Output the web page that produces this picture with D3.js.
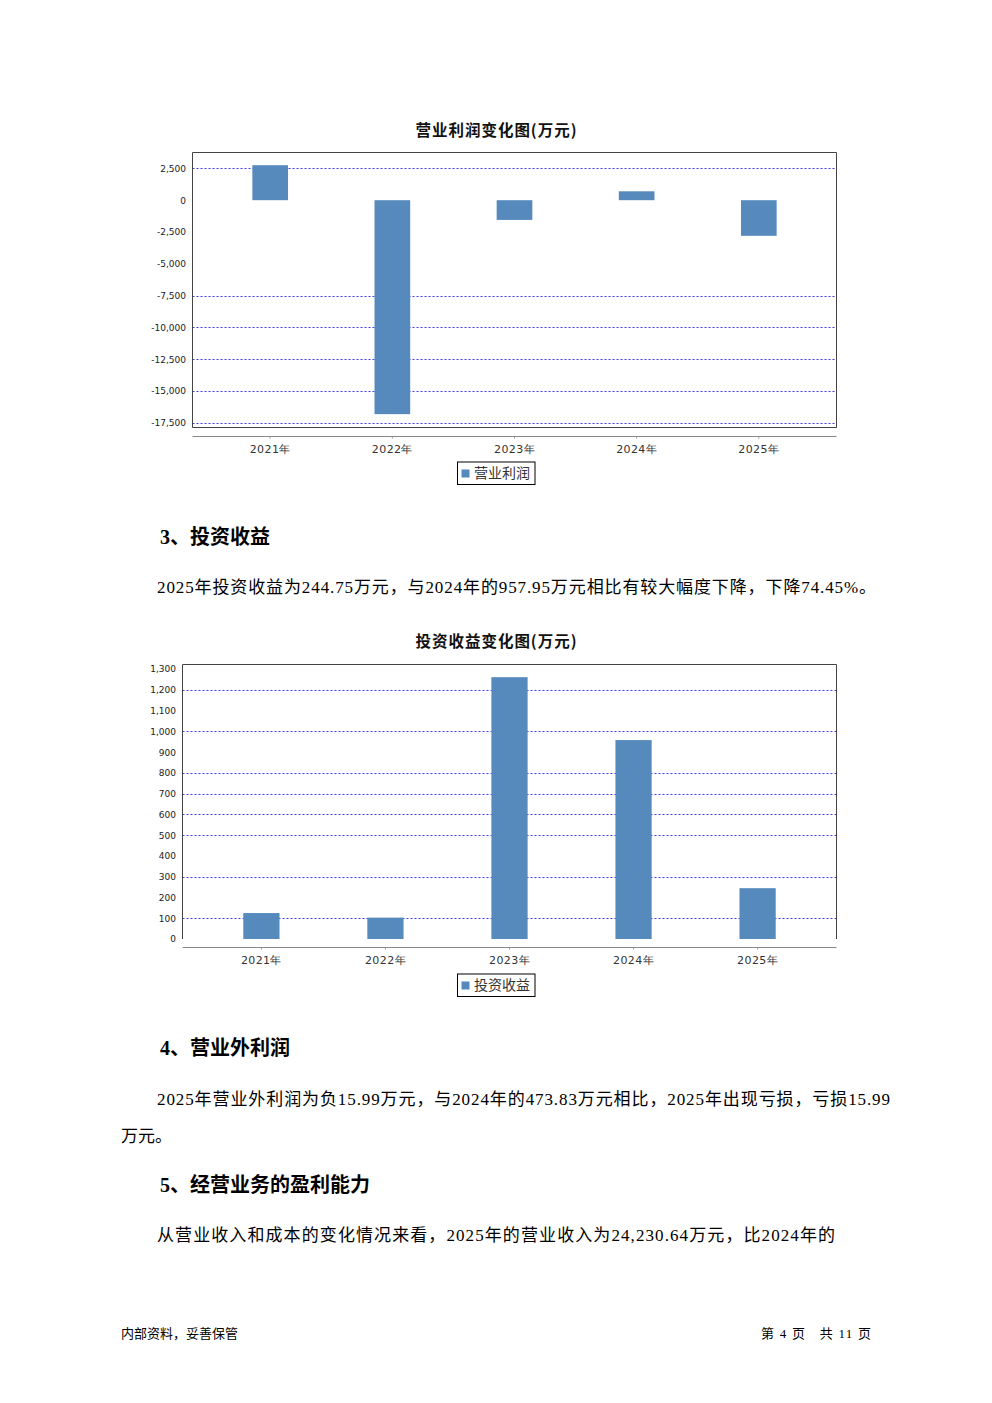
<!DOCTYPE html>
<html>
<head>
<meta charset="utf-8">
<script src="https://cdnjs.cloudflare.com/ajax/libs/d3/7.8.5/d3.min.js"></script>
<style>
  html, body { margin: 0; padding: 0; background: #fff; }
  svg { display: block; }
</style>
</head>
<body>
<script>
// ---------- data ----------
const years = ["2021年", "2022年", "2023年", "2024年", "2025年"];

const opProfitName = "营业利润";
const opProfit = [2750, -16820, -1550, 700, -2800];
const opTicks = [2500, 0, -2500, -5000, -7500, -10000, -12500, -15000, -17500];
const opTickLabels = ["2,500", "0", "-2,500", "-5,000", "-7,500", "-10,000", "-12,500", "-15,000", "-17,500"];
const opGrid = [2500, -7500, -10000, -12500, -15000, -17500];
const opDomain = [-17870, 3750];

const invName = "投资收益";
const invIncome = [125, 103, 1261, 957.95, 244.75];
const invTicks = [0, 100, 200, 300, 400, 500, 600, 700, 800, 900, 1000, 1100, 1200, 1300];
const invTickLabels = ["0", "100", "200", "300", "400", "500", "600", "700", "800", "900", "1,000", "1,100", "1,200", "1,300"];
const invGrid = [1200, 1000, 800, 700, 600, 500, 300, 100];
const invDomain = [0, 1322];

// ---------- page ----------
const W = 992, H = 1403;
const svg = d3.select("body").append("svg").attr("width", W).attr("height", H);
svg.append("rect").attr("width", W).attr("height", H).attr("fill", "#fff");

const CJK = '"Noto Sans CJK SC", sans-serif';
const SERIF = '"Liberation Serif", "Noto Sans CJK SC", serif';
const BAR = "#568abd";

function drawChart(o) {
  const g = svg.append("g");
  // title
  g.append("text").attr("x", 496).attr("y", o.titleY)
    .attr("text-anchor", "middle").attr("font-family", CJK).attr("font-weight", "bold")
    .attr("font-size", 15.5).attr("textLength", 161).attr("lengthAdjust", "spacing")
    .attr("fill", "#111").text(o.title);

  const x = d3.scaleBand().domain(o.cats).range([o.left, o.right])
    .paddingInner(0.708).paddingOuter(0.49);
  const y = d3.scaleLinear().domain(o.domain).range([o.bottom, o.top]);

  // grid
  g.append("g").selectAll("line").data(o.grid).join("line")
    .attr("x1", o.left).attr("x2", o.right)
    .attr("y1", d => Math.round(y(d)) + 0.5).attr("y2", d => Math.round(y(d)) + 0.5)
    .attr("stroke", "#3a3aff").attr("stroke-width", 1).attr("stroke-dasharray", "2,2");

  // bars
  g.append("g").selectAll("rect").data(o.values).join("rect")
    .attr("x", (d, i) => x(o.cats[i]))
    .attr("width", x.bandwidth())
    .attr("y", d => Math.min(y(d), y(0)))
    .attr("height", d => Math.abs(y(d) - y(0)))
    .attr("fill", BAR);

  // frame
  const fr = g.append("g").attr("fill", "none").attr("stroke", "#444").attr("stroke-width", 1);
  fr.append("line").attr("x1", o.left).attr("x2", o.right).attr("y1", o.top).attr("y2", o.top);
  fr.append("line").attr("x1", o.left).attr("x2", o.left).attr("y1", o.top).attr("y2", o.bottom);
  fr.append("line").attr("x1", o.right).attr("x2", o.right).attr("y1", o.top).attr("y2", o.bottom);
  if (o.bottomEdge) fr.append("line").attr("x1", o.left).attr("x2", o.right).attr("y1", o.bottom).attr("y2", o.bottom);

  // y axis
  const ya = g.append("g").attr("transform", `translate(${o.left},0)`)
    .call(d3.axisLeft(y).tickValues(o.ticks).tickSize(0).tickPadding(6.5)
      .tickFormat((d, i) => o.tickLabels[i]));
  ya.select(".domain").remove();
  ya.selectAll("text").attr("font-family", '"DejaVu Sans", sans-serif').attr("font-size", 9).attr("fill", "#222");

  // x axis
  const xa = g.append("g").attr("transform", `translate(0,${o.axisY})`)
    .call(d3.axisBottom(x).tickSize(2).tickSizeOuter(0).tickPadding(6.5));
  xa.select(".domain").attr("stroke", "#888").attr("d", `M${o.left},0H${o.right}`);
  xa.selectAll(".tick line").attr("stroke", "#999");
  xa.selectAll("text").attr("font-family", '"DejaVu Sans", sans-serif').attr("font-size", 11)
    .attr("letter-spacing", 0.4).attr("fill", "#333");

  // legend
  const lg = g.append("g");
  lg.append("rect").attr("x", 457.5).attr("y", o.legendY + 0.5).attr("width", 77.5).attr("height", 22.5)
    .attr("fill", "#fff").attr("stroke", "#000").attr("stroke-width", 1);
  lg.append("rect").attr("x", 461.5).attr("y", o.legendY + 8).attr("width", 8).attr("height", 8).attr("fill", BAR);
  lg.append("text").attr("x", 474).attr("y", o.legendY + 16.5).attr("font-family", CJK)
    .attr("font-size", 14).attr("fill", "#333").text(o.name);
}

drawChart({
  title: "营业利润变化图(万元)", titleY: 136, name: opProfitName,
  cats: years, values: opProfit, ticks: opTicks, tickLabels: opTickLabels, grid: opGrid, domain: opDomain,
  left: 192.5, right: 836.5, top: 152.5, bottom: 427.5, bottomEdge: true, axisY: 436.5, legendY: 461.5
});

drawChart({
  title: "投资收益变化图(万元)", titleY: 647, name: invName,
  cats: years, values: invIncome, ticks: invTicks, tickLabels: invTickLabels, grid: invGrid, domain: invDomain,
  left: 182.5, right: 836.5, top: 664.5, bottom: 939, bottomEdge: false, axisY: 947.5, legendY: 973.5
});

// ---------- body text ----------
function heading(txt, y) {
  svg.append("text").attr("x", 160).attr("y", y).attr("font-family", SERIF)
    .attr("font-weight", "bold").attr("font-size", 20).attr("fill", "#000").text(txt);
}
function para(txt, x, y, len) {
  const t = svg.append("text").attr("x", x).attr("y", y).attr("font-family", SERIF)
    .attr("font-size", 17).attr("fill", "#000").text(txt);
  if (len) t.attr("textLength", len).attr("lengthAdjust", "spacing");
}

heading("3、投资收益", 543.5);
para("2025年投资收益为244.75万元，与2024年的957.95万元相比有较大幅度下降，下降74.45%。", 157, 592.5, 719);

heading("4、营业外利润", 1055);
para("2025年营业外利润为负15.99万元，与2024年的473.83万元相比，2025年出现亏损，亏损15.99", 157, 1104.5, 733);
para("万元。", 121, 1141.5, null);

heading("5、经营业务的盈利能力", 1192);
para("从营业收入和成本的变化情况来看，2025年的营业收入为24,230.64万元，比2024年的", 157, 1240.5, 678);

// footer
svg.append("text").attr("x", 121).attr("y", 1338).attr("font-family", SERIF)
  .attr("font-size", 13).attr("fill", "#000").text("内部资料，妥善保管");
svg.append("text").attr("x", 761).attr("y", 1338).attr("font-family", SERIF)
  .attr("font-size", 13).attr("fill", "#000").attr("xml:space", "preserve")
  .attr("textLength", 110).attr("lengthAdjust", "spacing").text("第 4 页   共 11 页");
</script>
</body>
</html>
